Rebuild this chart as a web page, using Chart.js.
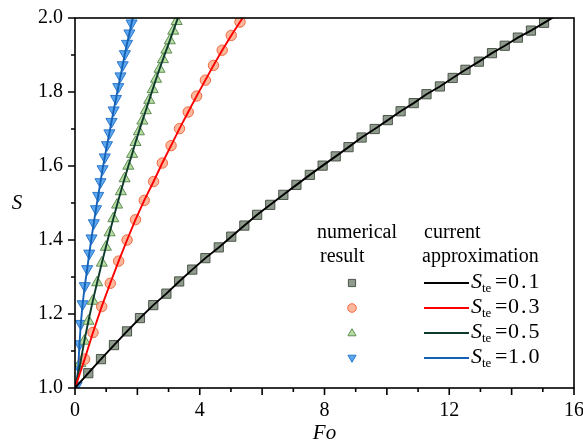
<!DOCTYPE html>
<html>
<head>
<meta charset="utf-8">
<script src="https://cdn.jsdelivr.net/npm/chart.js@4.4.0/dist/chart.umd.min.js"></script>
<style>
  html, body { margin: 0; padding: 0; background: #fff; }
</style>
</head>
<body>
<canvas id="c" width="583" height="446"></canvas>
<script>
// values (Fo, S)
const steLabels = ['0.1', '0.3', '0.5', '1.0'];

const fo01 = [0.426, 0.833, 1.25, 1.667, 2.083, 2.51, 2.93, 3.34, 3.76, 4.18, 4.61, 5.01, 5.43, 5.84, 6.26, 6.68, 7.10, 7.53,
  7.94, 8.36, 8.77, 9.19, 9.61, 10.03, 10.44, 10.86, 11.27, 11.70, 12.11, 12.52, 12.95, 13.37, 13.78, 14.20, 14.62, 15.04];
const s01 = [1.040, 1.078, 1.116, 1.153, 1.189, 1.224, 1.255, 1.288, 1.320, 1.351, 1.380, 1.409, 1.439, 1.468, 1.495, 1.522, 1.549, 1.576,
  1.601, 1.626, 1.651, 1.677, 1.700, 1.724, 1.748, 1.770, 1.794, 1.815, 1.838, 1.860, 1.882, 1.905, 1.925, 1.947, 1.966, 1.987];

const fo03 = [0.31, 0.577, 0.855, 1.13, 1.40, 1.67, 1.94, 2.22, 2.52, 2.80, 3.08, 3.35, 3.63, 3.90, 4.18, 4.44, 4.72, 5.01, 5.29];
const s03 = [1.078, 1.150, 1.220, 1.283, 1.343, 1.400, 1.455, 1.507, 1.558, 1.608, 1.655, 1.701, 1.746, 1.789, 1.832, 1.872, 1.913, 1.953, 1.989];

const fo05 = [0.17, 0.30, 0.43, 0.57, 0.71, 0.86, 0.99, 1.11, 1.23, 1.35, 1.47, 1.59, 1.71, 1.83, 1.94, 2.05, 2.16, 2.27,
  2.38, 2.49, 2.60, 2.71, 2.82, 2.93, 3.04, 3.15, 3.26];
const s05 = [1.067, 1.127, 1.181, 1.235, 1.285, 1.338, 1.381, 1.420, 1.458, 1.495, 1.531, 1.566, 1.600, 1.632, 1.664, 1.693, 1.722, 1.750,
  1.778, 1.807, 1.835, 1.862, 1.888, 1.914, 1.939, 1.965, 1.991];

const fo10 = [0.054, 0.106, 0.144, 0.186, 0.244, 0.314, 0.391, 0.458, 0.529, 0.603, 0.673, 0.744, 0.817, 0.885, 0.955, 1.026, 1.103, 1.170,
  1.240, 1.314, 1.388, 1.458, 1.529, 1.599, 1.670, 1.744, 1.814];
const s10 = [1.007, 1.059, 1.119, 1.174, 1.227, 1.276, 1.322, 1.364, 1.405, 1.446, 1.484, 1.520, 1.557, 1.592, 1.624, 1.657, 1.689, 1.720,
  1.751, 1.782, 1.814, 1.843, 1.873, 1.903, 1.931, 1.959, 1.986];

// approximation curves start at (0, 1) and leave the plot through the top
const lineStartFo = 0, lineStartS = 1;
const lineEndFo = [15.5, 5.45, 3.34, 1.876];
const lineEndS = 2.01;

const xMajor = [0, 2, 4, 6, 8, 10, 12, 14, 16];
const xMinor = [1, 3, 5, 7, 9, 11, 13, 15];
const yMajor = [1.0, 1.2, 1.4, 1.6, 1.8, 2.0];
const yMinor = [1.1, 1.3, 1.5, 1.7, 1.9];

const foSets = [fo01, fo03, fo05, fo10];
const sSets = [s01, s03, s05, s10];

const markFill = ['#8f9c8d', 'rgba(250,172,140,0.85)', '#b7dda2', '#5ca7ee'];
const markEdge = ['#4b5449', '#ee6840', '#5f8d56', '#2d77cc'];
const markStyle = ['rect', 'circle', 'triangle', 'triangle'];
const markRot = [0, 0, 0, 180];
const markRadius = [6.5, 5.2, 6.4, 6.4];
const lineColor = ['#000000', '#ff0000', '#0e3a2c', '#1462b8'];

const serif = '"Liberation Serif", "DejaVu Serif", serif';
Chart.defaults.font.family = serif;

function pts(xs, ys) {
  return xs.map((v, i) => ({ x: v, y: ys[i] }));
}

const datasets = [];
for (let i = 0; i < 4; i++) {
  datasets.push({
    label: 'approx ' + steLabels[i],
    data: [{ x: lineStartFo, y: lineStartS }].concat(pts(foSets[i], sSets[i]), [{ x: lineEndFo[i], y: lineEndS }]),
    borderColor: lineColor[i],
    borderWidth: 1.9,
    pointRadius: 0,
    showLine: true,
    fill: false,
    order: 0
  });
}
for (let i = 0; i < 4; i++) {
  datasets.push({
    label: 'numerical ' + steLabels[i],
    data: pts(foSets[i], sSets[i]),
    showLine: false,
    pointStyle: markStyle[i],
    rotation: markRot[i],
    pointRadius: markRadius[i],
    pointBackgroundColor: markFill[i],
    pointBorderColor: markEdge[i],
    pointBorderWidth: 1,
    order: 1
  });
}

function drawMark(ctx, i, x, y, r) {
  ctx.save();
  ctx.fillStyle = markFill[i];
  ctx.strokeStyle = markEdge[i];
  ctx.lineWidth = 1;
  ctx.beginPath();
  if (markStyle[i] === 'rect') {
    ctx.rect(x - r, y - r, 2 * r, 2 * r);
  } else if (markStyle[i] === 'circle') {
    ctx.arc(x, y, r, 0, Math.PI * 2);
  } else {
    const d = markRot[i] ? -1 : 1;
    ctx.moveTo(x, y - d * r);
    ctx.lineTo(x + r * 0.95, y + d * r * 0.65);
    ctx.lineTo(x - r * 0.95, y + d * r * 0.65);
    ctx.closePath();
  }
  ctx.fill();
  ctx.stroke();
  ctx.restore();
}

const framePlugin = {
  id: 'frame',
  afterDatasetsDraw(chart) {
    const { ctx, chartArea: a, scales: { x, y } } = chart;
    ctx.save();
    ctx.strokeStyle = '#000';
    ctx.lineWidth = 1.6;
    ctx.strokeRect(a.left, a.top, a.right - a.left, a.bottom - a.top);
    ctx.beginPath();
    xMajor.forEach(v => { const p = x.getPixelForValue(v); ctx.moveTo(p, a.bottom); ctx.lineTo(p, a.bottom + 7); });
    xMinor.forEach(v => { const p = x.getPixelForValue(v); ctx.moveTo(p, a.bottom); ctx.lineTo(p, a.bottom + 4); });
    yMajor.forEach(v => { const p = y.getPixelForValue(v); ctx.moveTo(a.left, p); ctx.lineTo(a.left - 7, p); });
    yMinor.forEach(v => { const p = y.getPixelForValue(v); ctx.moveTo(a.left, p); ctx.lineTo(a.left - 4, p); });
    ctx.stroke();

    // axis titles
    ctx.fillStyle = '#000';
    ctx.font = 'italic 21px ' + serif;
    ctx.textAlign = 'center';
    ctx.textBaseline = 'middle';
    ctx.fillText('S', 17, 203);
    ctx.fillText('Fo', (a.left + a.right) / 2, 433);
    ctx.restore();
  },
  afterDraw(chart) {
    const ctx = chart.ctx;
    ctx.save();
    ctx.fillStyle = '#000';
    ctx.textAlign = 'left';
    ctx.textBaseline = 'middle';
    ctx.font = '20px ' + serif;
    ctx.fillText('numerical', 317, 233);
    ctx.fillText('result', 320, 257);
    ctx.fillText('current', 424, 233);
    ctx.fillText('approximation', 422, 257);

    const rows = [283, 308, 333, 358];
    rows.forEach((ry, i) => {
      drawMark(ctx, i, 352, ry, i === 0 ? 3.6 : 4.3);
      ctx.strokeStyle = lineColor[i];
      ctx.lineWidth = 1.9;
      ctx.beginPath();
      ctx.moveTo(424, ry);
      ctx.lineTo(469, ry);
      ctx.stroke();
      ctx.fillStyle = '#000';
      ctx.font = 'italic 22px ' + serif;
      ctx.fillText('S', 471, ry - 1);
      ctx.font = '13px ' + serif;
      ctx.fillText('te', 482, ry + 6);
      ctx.font = '22px ' + serif;
      ctx.fillText('=', 495, ry - 1);
      ctx.letterSpacing = '2px';
      ctx.fillText(steLabels[i], 508, ry - 1);
      ctx.letterSpacing = '0px';
    });
    ctx.restore();
  }
};

new Chart(document.getElementById('c'), {
  type: 'scatter',
  data: { datasets },
  plugins: [framePlugin],
  options: {
    responsive: false,
    animation: false,
    devicePixelRatio: 1,
    layout: { padding: { top: 18, right: 9, left: 0, bottom: 0 } },
    plugins: { legend: { display: false }, tooltip: { enabled: false } },
    scales: {
      x: {
        type: 'linear',
        min: 0,
        max: 16,
        grid: { display: false, drawTicks: false },
        border: { display: false },
        ticks: {
          stepSize: 4,
          padding: 11,
          color: '#000',
          font: { family: serif, size: 20 },
          maxRotation: 0
        },
        afterFit(scale) { scale.height = 58; scale.paddingLeft = 0; scale.paddingRight = 0; }
      },
      y: {
        type: 'linear',
        min: 1,
        max: 2,
        grid: { display: false, drawTicks: false },
        border: { display: false },
        ticks: {
          stepSize: 0.2,
          padding: 12,
          color: '#000',
          font: { family: serif, size: 20 },
          callback: v => v.toFixed(1)
        },
        afterFit(scale) { scale.width = 75; scale.paddingTop = 0; scale.paddingBottom = 0; }
      }
    }
  }
});
</script>
</body>
</html>
